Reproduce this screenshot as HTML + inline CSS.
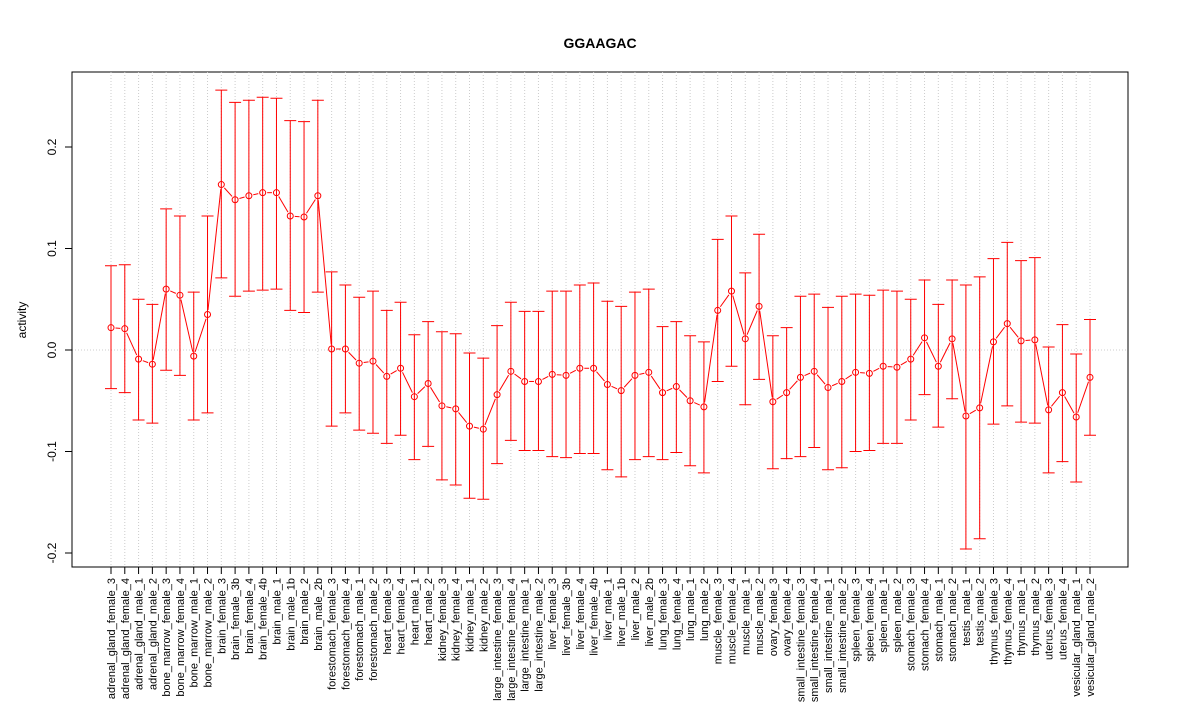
<!DOCTYPE html>
<html><head><meta charset="utf-8"><style>
body{margin:0;background:#fff}
svg{display:block;font-family:"Liberation Sans",Arial,sans-serif}
</style></head><body>
<svg id="chart" width="1200" height="720" xmlns="http://www.w3.org/2000/svg">
<rect width="1200" height="720" fill="#fff"/>
<text x="600" y="48" text-anchor="middle" font-size="14" font-weight="bold">GGAAGAC</text>
<text transform="translate(26,320) rotate(-90)" text-anchor="middle" font-size="12">activity</text>
<rect x="72" y="72" width="1056" height="495" fill="none" stroke="#000"/>
<g id="grid"></g><g id="bars"></g><g id="line"></g><g id="pts"></g><g id="yaxis"></g><g id="xaxis"></g>
</svg>
<script>
const categories=["adrenal_gland_female_3","adrenal_gland_female_4","adrenal_gland_male_1","adrenal_gland_male_2","bone_marrow_female_3","bone_marrow_female_4","bone_marrow_male_1","bone_marrow_male_2","brain_female_3","brain_female_3b","brain_female_4","brain_female_4b","brain_male_1","brain_male_1b","brain_male_2","brain_male_2b","forestomach_female_3","forestomach_female_4","forestomach_male_1","forestomach_male_2","heart_female_3","heart_female_4","heart_male_1","heart_male_2","kidney_female_3","kidney_female_4","kidney_male_1","kidney_male_2","large_intestine_female_3","large_intestine_female_4","large_intestine_male_1","large_intestine_male_2","liver_female_3","liver_female_3b","liver_female_4","liver_female_4b","liver_male_1","liver_male_1b","liver_male_2","liver_male_2b","lung_female_3","lung_female_4","lung_male_1","lung_male_2","muscle_female_3","muscle_female_4","muscle_male_1","muscle_male_2","ovary_female_3","ovary_female_4","small_intestine_female_3","small_intestine_female_4","small_intestine_male_1","small_intestine_male_2","spleen_female_3","spleen_female_4","spleen_male_1","spleen_male_2","stomach_female_3","stomach_female_4","stomach_male_1","stomach_male_2","testis_male_1","testis_male_2","thymus_female_3","thymus_female_4","thymus_male_1","thymus_male_2","uterus_female_3","uterus_female_4","vesicular_gland_male_1","vesicular_gland_male_2"];
const centers=[0.022,0.021,-0.009,-0.014,0.060,0.054,-0.006,0.035,0.163,0.148,0.152,0.155,0.155,0.132,0.131,0.152,0.001,0.001,-0.013,-0.011,-0.026,-0.018,-0.046,-0.033,-0.055,-0.058,-0.075,-0.078,-0.044,-0.021,-0.031,-0.031,-0.024,-0.025,-0.018,-0.018,-0.034,-0.040,-0.025,-0.022,-0.042,-0.036,-0.050,-0.056,0.039,0.058,0.011,0.043,-0.051,-0.042,-0.027,-0.021,-0.037,-0.031,-0.022,-0.023,-0.016,-0.017,-0.009,0.012,-0.016,0.011,-0.065,-0.057,0.008,0.026,0.009,0.010,-0.059,-0.042,-0.066,-0.027];
const uppers=[0.083,0.084,0.050,0.045,0.139,0.132,0.057,0.132,0.256,0.244,0.246,0.249,0.248,0.226,0.225,0.246,0.077,0.064,0.052,0.058,0.039,0.047,0.015,0.028,0.018,0.016,-0.003,-0.008,0.024,0.047,0.038,0.038,0.058,0.058,0.064,0.066,0.048,0.043,0.057,0.060,0.023,0.028,0.014,0.008,0.109,0.132,0.076,0.114,0.014,0.022,0.053,0.055,0.042,0.053,0.055,0.054,0.059,0.058,0.050,0.069,0.045,0.069,0.064,0.072,0.090,0.106,0.088,0.091,0.003,0.025,-0.004,0.030];
const lowers=[-0.038,-0.042,-0.069,-0.072,-0.020,-0.025,-0.069,-0.062,0.071,0.053,0.058,0.059,0.060,0.039,0.037,0.057,-0.075,-0.062,-0.079,-0.082,-0.092,-0.084,-0.108,-0.095,-0.128,-0.133,-0.146,-0.147,-0.112,-0.089,-0.099,-0.099,-0.105,-0.106,-0.102,-0.102,-0.118,-0.125,-0.108,-0.105,-0.108,-0.101,-0.114,-0.121,-0.031,-0.016,-0.054,-0.029,-0.117,-0.107,-0.105,-0.096,-0.118,-0.116,-0.100,-0.099,-0.092,-0.092,-0.069,-0.044,-0.076,-0.048,-0.196,-0.186,-0.073,-0.055,-0.071,-0.072,-0.121,-0.110,-0.130,-0.084];
const yTicks=[-0.2,-0.1,0.0,0.1,0.2];
const yTickLabels=["-0.2","-0.1","0.0","0.1","0.2"];

const NS="http://www.w3.org/2000/svg";
const xs=i=>111+i*(1090-111)/(categories.length-1);
const ys=v=>350-v*1015;
function mk(tag,attrs,parent){const e=document.createElementNS(NS,tag);for(const k in attrs)e.setAttribute(k,attrs[k]);document.getElementById(parent).appendChild(e);return e;}
const red="#ff0000";
// zero line
let z=mk('line',{x1:72,x2:1128,y1:ys(0),y2:ys(0),stroke:'#ccc','stroke-dasharray':'1,2'},'grid');


categories.forEach((c,i)=>{
  const x=xs(i);
  let g=mk('line',{x1:x,x2:x,y1:72,y2:567,stroke:'#ccc','stroke-dasharray':'1,2'},'grid');
  
  
  let b=mk('path',{d:`M${x},${ys(uppers[i])}V${ys(lowers[i])}M${x-6},${ys(uppers[i])}H${x+6}M${x-6},${ys(lowers[i])}H${x+6}`,stroke:red,fill:'none','stroke-width':1},'bars');
  
  
  if(i<categories.length-1){
    const x2=xs(i+1),y1=ys(centers[i]),y2=ys(centers[i+1]);
    const dx=x2-x,dy=y2-y1,L=Math.hypot(dx,dy),g0=4.5;
    if(L>2*g0){
      let s=mk('line',{x1:x+dx*g0/L,y1:y1+dy*g0/L,x2:x2-dx*g0/L,y2:y2-dy*g0/L,stroke:red},'line');
      
      
    }
  }
  let p=mk('circle',{cx:x,cy:ys(centers[i]),r:3,fill:'none',stroke:red},'pts');
  
  
  let t=mk('line',{x1:x,x2:x,y1:567,y2:574,stroke:'#000'},'xaxis');
  
  
  let l=mk('text',{transform:`translate(${x+4},578) rotate(-90)`,'text-anchor':'end','font-size':11},'xaxis');
  l.textContent=c;
  
  
});
yTicks.forEach((v,i)=>{
  let t=mk('line',{x1:65,x2:72,y1:ys(v),y2:ys(v),stroke:'#000'},'yaxis');
  
  
  let l=mk('text',{transform:`translate(56,${ys(v)}) rotate(-90)`,'text-anchor':'middle','font-size':12},'yaxis');
  l.textContent=yTickLabels[i];
  
  
});
let ax=mk('line',{x1:72,x2:72,y1:ys(-0.2),y2:ys(0.2),stroke:'#000'},'yaxis');


</script>
</body></html>
